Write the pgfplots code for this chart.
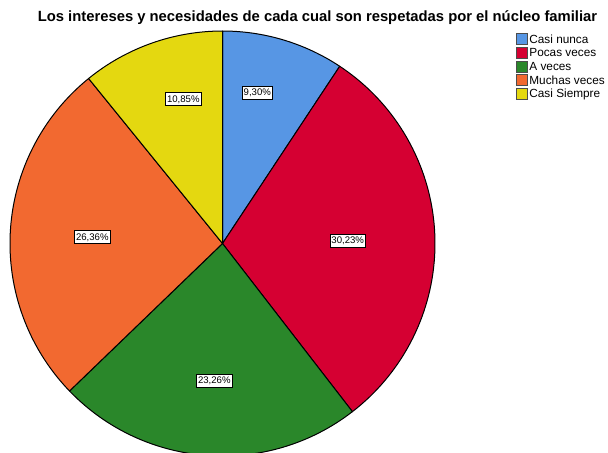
\documentclass[border=0pt]{standalone}
\usepackage{pgfplots}
\usepackage{pgfplotstable}
\pgfplotsset{compat=1.18}
\usepackage{fontspec}
\setmainfont{Liberation Sans}

\definecolor{cnunca}{RGB}{87,150,228}
\definecolor{pocas}{RGB}{213,0,50}
\definecolor{aveces}{RGB}{42,135,42}
\definecolor{muchas}{RGB}{242,105,48}
\definecolor{siempre}{RGB}{228,216,16}

% value in percent, colour, label position (image px, y from bottom)
\pgfplotstableread{
name value txt col lx ly
{Casi nunca} 9.30 {9,30} cnunca 257.3 359.3
{Pocas veces} 30.23 {30,23} pocas 347.7 211.3
{A veces} 23.26 {23,26} aveces 214.3 71.3
{Muchas veces} 26.36 {26,36} muchas 92.3 214.7
{Casi Siempre} 10.85 {10,85} siempre 183.3 352.7
}\piedata

\begin{document}
\begin{tikzpicture}
\begin{axis}[
    x=0.5pt, y=0.5pt,
    xmin=0, xmax=608, ymin=0, ymax=452,
    hide axis,
    clip=true,
]
\addplot[draw=none] coordinates {(0,0) (608,452)};
\pgfplotsextra{
  \def\angstart{90}
  \pgfplotsforeachungrouped \i in {0,...,4}{
    \pgfplotstablegetelem{\i}{value}\of\piedata \let\val\pgfplotsretval
    \pgfplotstablegetelem{\i}{col}\of\piedata \let\col\pgfplotsretval
    \pgfmathsetmacro\angend{\angstart-3.6*\val}
    \filldraw[fill=\col, draw=black, line width=0.5pt, line join=round]
      (axis cs:222.5,208.5) -- ++(\angstart:106.25pt)
      arc[start angle=\angstart, end angle=\angend, radius=106.25pt] -- cycle;
    \let\angstart\angend
  }
  \pgfplotsforeachungrouped \i in {0,...,4}{
    \pgfplotstablegetelem{\i}{txt}\of\piedata \let\lab\pgfplotsretval
    \pgfplotstablegetelem{\i}{lx}\of\piedata \let\lx\pgfplotsretval
    \pgfplotstablegetelem{\i}{ly}\of\piedata \let\ly\pgfplotsretval
    \node[fill=white, draw=black, line width=0.4pt, inner xsep=0.7pt, inner ysep=1.3pt,
          font=\fontsize{4.8}{5}\selectfont]
      at (axis cs:\lx,\ly) {\lab\%};
  }
  % legend
  \pgfplotsforeachungrouped \i in {0,...,4}{
    \pgfplotstablegetelem{\i}{name}\of\piedata \let\nm\pgfplotsretval
    \pgfplotstablegetelem{\i}{col}\of\piedata \let\col\pgfplotsretval
    \pgfmathsetmacro\ry{413-13.75*\i}
    \filldraw[fill=\col, draw=black!70, line width=0.4pt]
      (axis cs:516,\ry-5.5) rectangle (axis cs:527,\ry+5.5);
    \node[anchor=west, inner sep=0pt, font=\fontsize{5.9}{7}\selectfont]
      at (axis cs:529,\ry) {\nm};
  }
}
\node[font=\bfseries\fontsize{7.4}{9}\selectfont] at (axis cs:317.5,434)
  {Los intereses y necesidades de cada cual son respetadas por el núcleo familiar};
\end{axis}
\end{tikzpicture}
\end{document}
